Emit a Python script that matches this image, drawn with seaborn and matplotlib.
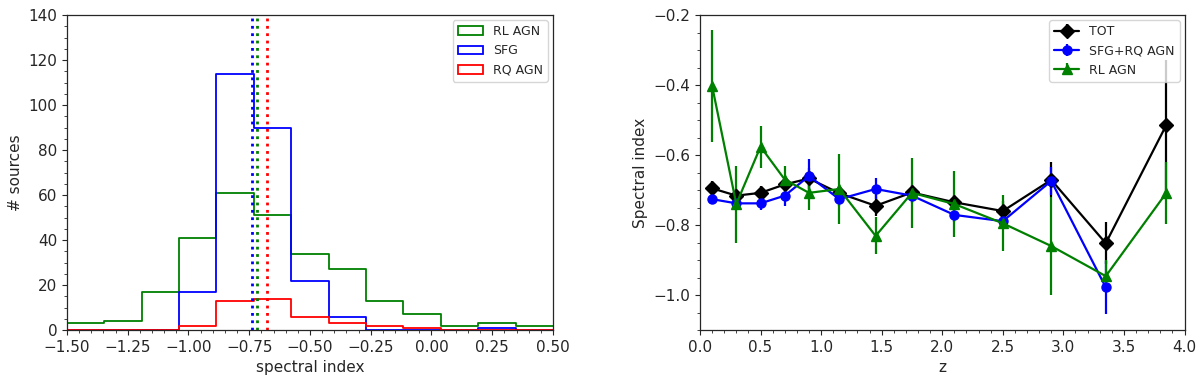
import numpy as np
import pandas as pd
import matplotlib
matplotlib.use("Agg")
import matplotlib.pyplot as plt
from matplotlib.patches import Patch
from matplotlib.ticker import MultipleLocator
import seaborn as sns

# ---------------- data ----------------
bin_lo, bin_hi, n_bins = -1.5, 0.5, 13
rl_counts = [3, 4, 17, 41, 61, 51, 34, 27, 13, 7, 2, 3, 2]
sfg_counts = [0, 0, 0, 17, 114, 90, 22, 6, 0, 0, 0, 1, 0]
rq_counts = [0, 0, 0, 2, 13, 14, 6, 3, 2, 1, 0, 0, 0]
median_rl = -0.716
median_sfg = -0.738
median_rq = -0.675

z_tot = [0.1, 0.3, 0.5, 0.7, 0.9, 1.15, 1.45, 1.75, 2.1, 2.5, 2.9, 3.35, 3.85]
a_tot = [-0.695, -0.716, -0.708, -0.684, -0.667, -0.709, -0.745, -0.707, -0.735, -0.760, -0.671, -0.852, -0.514]
e_tot = [0.02, 0.02, 0.02, 0.02, 0.03, 0.02, 0.03, 0.02, 0.02, 0.03, 0.05, 0.06, 0.185]

z_sfg = [0.1, 0.3, 0.5, 0.7, 0.9, 1.15, 1.45, 1.75, 2.1, 2.5, 2.9, 3.35]
a_sfg = [-0.726, -0.738, -0.738, -0.716, -0.660, -0.726, -0.697, -0.716, -0.771, -0.789, -0.674, -0.978]
e_sfg = [0.015, 0.02, 0.02, 0.03, 0.05, 0.02, 0.03, 0.02, 0.02, 0.02, 0.04, 0.075]

z_rl = [0.1, 0.3, 0.5, 0.7, 0.9, 1.15, 1.45, 1.75, 2.1, 2.5, 2.9, 3.35, 3.85]
a_rl = [-0.402, -0.740, -0.576, -0.670, -0.708, -0.697, -0.831, -0.708, -0.740, -0.795, -0.860, -0.946, -0.708]
e_rl = [0.16, 0.11, 0.06, 0.04, 0.05, 0.10, 0.053, 0.10, 0.095, 0.08, 0.14, 0.045, 0.088]

# ---------------- figure ----------------
sns.set_style("ticks")
plt.rcParams['font.family'] = ['DejaVu Sans']
plt.rcParams['xtick.direction'] = 'out'
plt.rcParams['ytick.direction'] = 'out'

fig = plt.figure(figsize=(12, 3.82), dpi=100)
ax1 = fig.add_axes([0.0558, 0.136, 0.405, 0.8246])
ax2 = fig.add_axes([0.5833, 0.136, 0.4038, 0.8246])

edges = np.linspace(bin_lo, bin_hi, n_bins + 1)
centers = 0.5 * (edges[:-1] + edges[1:])
hist_specs = [("RL AGN", rl_counts, "green"),
              ("SFG", sfg_counts, "blue"),
              ("RQ AGN", rq_counts, "red")]
for label, counts, col in hist_specs:
    df = pd.DataFrame({"x": centers, "w": counts})
    sns.histplot(data=df, x="x", weights="w", bins=n_bins, binrange=(bin_lo, bin_hi),
                 element="step", fill=False, color=col, linewidth=1.3, ax=ax1)

for med, col in [(median_sfg, "blue"), (median_rl, "green"), (median_rq, "red")]:
    ax1.axvline(med, color=col, linestyle=":", linewidth=2)

ax1.set_xlim(-1.5, 0.5)
ax1.set_ylim(0, 140)
ticks1 = np.arange(-1.5, 0.51, 0.25)
ax1.set_xticks(ticks1)
ax1.set_xticklabels([f"{v:.2f}".replace("-", "\u2212") for v in ticks1])
ax1.xaxis.set_minor_locator(MultipleLocator(0.05))
ax1.yaxis.set_major_locator(MultipleLocator(20))
ax1.yaxis.set_minor_locator(MultipleLocator(5))
ax1.set_xlabel("spectral index", fontsize=11)
ax1.set_ylabel("# sources", fontsize=11)
ax1.tick_params(labelsize=11)
handles = [Patch(facecolor="none", edgecolor=c, linewidth=1.3, label=l) for l, _, c in hist_specs]
ax1.legend(handles=handles, loc="upper right", fontsize=9, frameon=True,
           borderaxespad=0.4)
for s in ax1.spines.values():
    s.set_visible(True)
    s.set_linewidth(0.9)

# right panel
ax2.errorbar(z_tot, a_tot, yerr=e_tot, fmt="-D", color="black", markersize=7,
             linewidth=1.6, elinewidth=1.6, label="TOT")
ax2.errorbar(z_sfg, a_sfg, yerr=e_sfg, fmt="-o", color="blue", markersize=6.5,
             linewidth=1.6, elinewidth=1.6, label="SFG+RQ AGN")
ax2.errorbar(z_rl, a_rl, yerr=e_rl, fmt="-^", color="green", markersize=7,
             linewidth=1.6, elinewidth=1.6, label="RL AGN")
ax2.set_xlim(0, 4)
ax2.set_ylim(-1.1, -0.2)
ax2.xaxis.set_major_locator(MultipleLocator(0.5))
ax2.xaxis.set_minor_locator(MultipleLocator(0.1))
ax2.yaxis.set_major_locator(MultipleLocator(0.2))
ax2.yaxis.set_minor_locator(MultipleLocator(0.05))
ax2.set_xlabel("z", fontsize=11)
ax2.set_ylabel("Spectral index", fontsize=11)
ax2.tick_params(labelsize=11)
ax2.legend(loc="upper right", fontsize=9, frameon=True, borderaxespad=0.4)
for s in ax2.spines.values():
    s.set_visible(True)
    s.set_linewidth(0.9)

fig.savefig("out.png", dpi=100)
